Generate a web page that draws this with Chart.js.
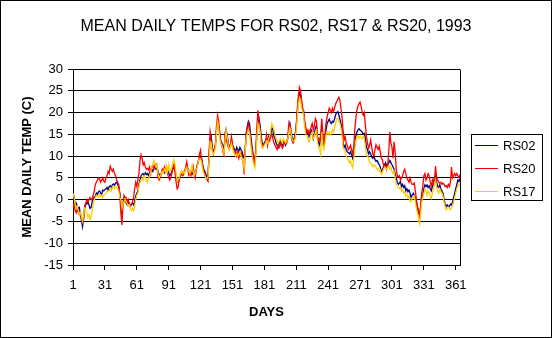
<!DOCTYPE html>
<html>
<head>
<meta charset="utf-8">
<script src="https://cdn.jsdelivr.net/npm/chart.js@4/dist/chart.umd.min.js"></script>
<style>
  html, body { margin: 0; padding: 0; background: #fff; }
  canvas { display: block; }
</style>
</head>
<body>
<canvas id="chart" width="552" height="338"></canvas>
<script>
// day numbers along the x axis (1..365) and the labelled ones
var days = [];
for (var d = 1; d <= 365; d++) { days.push(d); }
var dayTicks = [1, 31, 61, 91, 121, 151, 181, 211, 241, 271, 301, 331, 361];

var tempMin = -15;
var tempMax = 30;
var tempStep = 5;

var seriesNames = ['RS02', 'RS20', 'RS17'];
var seriesColors = ['#000080', '#ff0000', '#ffcc00'];

var rs02 = [
  -0.5, 0.5, -1, -0.8, -1.5, -2, -1.8, -3.5, -4.8, -6.2,
  -4, -1.5, -0.8, -1, -0.5, -1.2, -2, -1.8, -0.5, 0.3,
  0.5, 0.8, 1.5, 1.2, 1.8, 2, 1.5, 1.2, 2.2, 2,
  2.3, 2.5, 2.8, 2.2, 3, 3.2, 2.8, 3.4, 3.6, 3.3,
  3.8, 4, 3.5, 3, 1.5, -0.5, -3, -1, -0.2, -0.5,
  -0.8, -1.2, -0.5, -1, -1.5, -1, -0.8, -1.2, -0.5, 0.8,
  1.5, 2, 3.5, 4.5, 5.5, 5.8, 6, 5.5, 6.2, 5.8,
  6, 5.5, 6.3, 6.8, 7, 6.5, 7.2, 7.5, 7, 7.6,
  6.5, 5.8, 5.5, 6, 6.5, 6.8, 6.2, 7, 7.3, 6.8,
  6.2, 5.5, 5.8, 6.5, 7, 7.5, 6.8, 5.5, 4.2, 4,
  4.5, 5.5, 6, 6.3, 5.8, 6.5, 7, 7.6, 7.2, 6.5,
  6.5, 6, 5.8, 6.4, 5.6, 6, 7, 8, 9, 9.5,
  10, 9.5, 8, 7, 6.5, 5.8, 5, 6, 10, 14,
  14.5, 12, 11, 11.5, 12.5, 16, 17.5, 17, 15, 13.5,
  13, 12.5, 11, 14, 16, 15, 13, 12, 12.5, 13.5,
  12.5, 12, 11.5, 11, 12, 11.5, 11, 12, 11.5, 11,
  10, 9.5, 12, 15, 17, 18, 17.5, 15, 13, 11,
  9.5, 8.5, 11, 15, 17.5, 18.5, 17, 14.5, 13, 12.5,
  13, 13.5, 14, 13.5, 14.5, 14, 15, 16.5, 16, 14.5,
  14, 13, 12.5, 12, 13, 13.5, 12.8, 12.5, 13.5, 13,
  12.5, 13.5, 14, 16, 17.5, 16, 14.5, 13.5, 14, 15,
  17, 20, 23, 24.5, 24, 22, 20.5, 19.5, 17.5, 16,
  15, 15.5, 14.5, 15, 16, 15.5, 14, 15, 16.5, 17,
  14, 13, 12.5, 14.5, 16.3, 13, 12.5, 14, 16, 17.5,
  18, 18.5, 17.8, 17.5, 18, 17.8, 18.5, 19.5, 20, 20.2,
  19.5, 18.5, 17.5, 16, 13, 12, 12.5, 11.5, 11, 10.8,
  10.5, 11, 10.3, 9.5, 10.5, 12.5, 14.5, 15.5, 16, 16.3,
  16, 15.8, 15.5, 15, 15.2, 14, 12, 11.5, 10.5, 11,
  10.5, 9.8, 9.5, 10, 9.2, 8.8, 9, 8.5, 8, 7.5,
  6.5, 6.8, 7.5, 8, 8.5, 7.8, 8, 8.5, 9, 8.5,
  8, 7.5, 7, 6, 5, 4, 3.5, 3.8, 4.2, 3,
  3.5, 2.8, 3.2, 2, 2.5, 1.8, 2.2, 1.5, 0.5, 1,
  1.5, 1, 0.5, -1, -2, -3, -3.5, -2, 0, 1,
  2.5, 3.4, 3, 3.4, 2.8, 3.2, 2.5, 2, 3, 4,
  5, 5.4, 4, 3, 2.8, 3.4, 2.5, 2, 1.5, 0,
  -1, -1.6, -1.2, -1.5, -1.6, -1, -1.2, -0.5, 0.5, 1.5,
  2.5, 3.5, 4.5, 4.2, 4.8
];

var rs20 = [
  -2, -1, -2.5, -3, -2, -3, -3.5, -3, -4, -5,
  -4.5, -2, -1, 0, -0.5, 0, 0.5, 0, 0.2, 1,
  2, 3.5, 4, 4.5, 5, 4.8, 4, 4.5, 5, 4.2,
  4, 5, 5.5, 6.5, 6, 7.7, 7, 6.5, 7, 6,
  5.5, 4.5, 4, 3.5, 1, -3, -5.8, -1, 1, 0.5,
  0.5, -0.5, 0, -1, -1.5, -1, -0.5, 0.5, 2.5, 4,
  3, 4.5, 6, 9, 10.3, 9.5, 8, 8.5, 7.5, 7,
  7.2, 6.8, 7.5, 6, 7.5, 8, 7, 8, 8.2, 7.5,
  5, 4.5, 5, 6, 7, 6.5, 7.5, 6.5, 7.5, 6,
  5, 4.5, 5, 6, 7.5, 8.2, 6, 4, 2.5, 3,
  5, 5.5, 6, 5.5, 6, 6.5, 7.5, 8.7, 7, 5.5,
  6, 5.5, 6.5, 7.6, 6, 5, 7, 8, 9, 10.5,
  11.4, 9, 7.5, 6.5, 6, 5, 4.6, 4.2, 11, 15.6,
  14, 11.5, 10.5, 11.5, 13, 17, 19.4, 18, 15.5, 13,
  12.5, 11, 10.3, 15.6, 14, 13, 12, 11.5, 12.5, 14.5,
  13, 11.5, 10.5, 11, 10, 11, 9.5, 10.5, 11, 9.8,
  8.5, 5.8, 11, 15.6, 16.5, 17.5, 16, 14, 12, 11,
  9, 8.4, 12, 17, 20.5, 18, 16, 13.5, 12.2, 12.5,
  12.8, 13, 14.8, 12.5, 14, 13.5, 14.5, 15, 14, 13,
  12.5, 12, 11.5, 12.5, 12, 13, 12.2, 11.8, 12.5, 13,
  12.8, 13, 14.5, 17.5, 16.5, 15, 13.5, 13, 13.5, 14.5,
  17, 21, 24, 25.8, 25, 23, 21, 20.5, 18, 16.5,
  15.5, 16, 15, 16, 16.7, 17.5, 16, 17, 18.6, 18,
  14.5, 14, 13.5, 15, 18.6, 15, 13, 15, 17.5, 19,
  20, 21, 20.5, 20, 21, 20.2, 21, 22, 22.5, 23,
  23.5, 22.8, 21, 19, 16, 13.7, 14.5, 13, 12.5, 11.5,
  11.8, 12.5, 11.5, 10.5, 12, 16, 18.6, 20.5, 21.5, 22,
  22.4, 21.5, 20, 19.4, 20, 17, 14.5, 13, 11.8, 12.5,
  13.7, 12, 10.5, 10, 11.5, 12.6, 12, 11.5, 12.3, 11,
  9.5, 9.2, 8, 7.5, 8, 7, 8, 11, 15.6, 13,
  12, 9.5, 13.3, 11, 7, 5.5, 5.2, 5.5, 4.5, 5,
  5.5, 6.5, 7, 6, 5, 4.5, 4, 5, 4, 3.5,
  3.5, 3.8, 2, 0, -1.5, -2.5, -3.8, -1, 1.5, 3,
  5.5, 6, 4.5, 5, 6, 5.5, 4, 3, 4.5, 3.5,
  4.5, 7.7, 5, 4.5, 4, 3.8, 4, 3.5, 3.8, 3.5,
  3, 3.2, 2.8, 3.5, 3, 4, 7.5, 5, 5.5, 6,
  5.5, 6, 5.5, 5, 5.8
];

var rs17 = [
  1.5, 0.5, -1, -2, -1.5, -2.5, -3.5, -3, -4, -5,
  -3.5, -2, -2.5, -3, -4, -3.5, -4.6, -4, -2.5, -1,
  0, 0.5, 1, 0.8, 0.5, 1.2, 0.8, 1, 0.5, 1,
  1.2, 1.5, 2, 1.8, 2.2, 2.5, 2, 3, 2.8, 2.5,
  3, 2.8, 2.5, 2, 0.5, 0, -2, -1, -0.5, 0,
  -0.5, -1, -1.5, -1.2, -2, -2.5, -2, -2.5, -1.5, 0,
  1, 1.5, 3, 4, 4.5, 5, 4.5, 5.5, 5, 4.5,
  4, 4.8, 5.5, 6.5, 7.5, 8, 9, 8.5, 7.5, 8,
  6, 5, 5.5, 6, 6.5, 6, 7, 6.5, 7.5, 6.5,
  8, 6.5, 7, 7.5, 8.5, 9.2, 8, 6, 4.2, 4.5,
  5, 6, 6.5, 6, 6.5, 6, 7, 7.5, 7, 6.5,
  6, 7, 8, 6.5, 5.5, 6, 7, 7.5, 9, 9.5,
  9.5, 8.5, 7, 6, 5.5, 5, 4.8, 5.2, 9, 13.3,
  13, 11, 10.5, 11, 12, 15.5, 17.9, 16.5, 14, 13,
  12.5, 11.5, 10.5, 13.5, 16, 14.5, 12.5, 11.5, 12, 13,
  12, 11, 10.5, 10, 10.5, 10, 10.5, 11, 10, 9.5,
  8.5, 7, 11.5, 14.5, 15.2, 16, 15.5, 13, 11, 9.2,
  8, 7.3, 10, 14.5, 17.5, 17, 15.5, 13, 11.8, 12,
  12.5, 13, 13.5, 13, 14, 14.5, 16, 17.5, 17, 16,
  15, 14, 13.5, 13, 13.5, 14, 13.5, 13, 14, 13.5,
  13, 13.5, 14, 15.5, 16.5, 15.5, 14, 13.5, 13.5, 14,
  16, 19, 22, 23.5, 23, 21, 20.5, 19, 16.5, 15,
  14.5, 14, 13.3, 14, 15, 15.5, 14, 14.5, 15.5, 16,
  13, 12, 11.5, 10.3, 15.6, 12.5, 11.5, 13, 14.8, 15.5,
  15, 15.5, 14.8, 15.5, 16, 15.5, 16.5, 17.5, 18.5, 18.7,
  18, 17.5, 16.5, 15, 12, 11.5, 11, 10, 9.5, 9,
  8.5, 9, 8, 7.3, 9, 11.5, 13.5, 14.5, 14.6, 14.1,
  14.5, 14.2, 14, 14.6, 14, 12, 10.5, 10, 9.5, 8.5,
  8.5, 8, 7.5, 8, 7.8, 7.5, 7, 7.2, 6.5, 6.8,
  5.8, 6.2, 7, 7.5, 7.3, 7, 7.5, 7.8, 7, 7.5,
  6.5, 6, 6.5, 5, 3.5, 3, 2.7, 2.5, 2.8, 2,
  2.3, 1.5, 1.8, 0.8, 1.2, 0.5, 1, -0.4, -0.5, 0.3,
  0.5, 0.8, -0.5, -2, -3, -4.5, -5.5, -3, -0.5, 0.5,
  1.5, 2.5, 2, 1, 2, 1.5, 0.8, 0.3, 1.5, 2.5,
  3.5, 4.5, 3, 2, 1.5, 2.5, 1.8, 1.5, 0.8, -0.5,
  -1.5, -2.3, -2, -1.7, -2, -2.3, -1.8, -1.5, -0.5, 0.5,
  1.5, 2.5, 3, 3.5, 4
];

var FONT = "'Liberation Sans', Arial, sans-serif";

// white background, plot frame, outer border and the boxed legend
var excelFrame = {
  id: 'excelFrame',
  beforeDraw: function(chart) {
    var ctx = chart.ctx;
    ctx.save();
    ctx.fillStyle = '#fff';
    ctx.fillRect(0, 0, chart.width, chart.height);
    ctx.restore();
  },
  afterDraw: function(chart) {
    var ctx = chart.ctx;
    var a = chart.chartArea;
    ctx.save();
    ctx.strokeStyle = '#000';
    ctx.lineWidth = 1;
    var rx = Math.round(a.right) + 0.5;
    ctx.beginPath();
    ctx.moveTo(rx, Math.round(a.top) + 0.5);
    ctx.lineTo(rx, Math.round(a.bottom) + 0.5);
    ctx.stroke();
    ctx.strokeRect(0.5, 0.5, chart.width - 1, chart.height - 1);

    // legend
    ctx.strokeRect(471.5, 134.5, 71, 66);
    ctx.font = '13px ' + FONT;
    ctx.textBaseline = 'middle';
    ctx.textAlign = 'left';
    chart.data.datasets.forEach(function(ds, i) {
      var y = 145.5 + i * 23;
      ctx.strokeStyle = ds.borderColor;
      ctx.lineWidth = 1;
      ctx.beginPath();
      ctx.moveTo(475, y);
      ctx.lineTo(498, y);
      ctx.stroke();
      ctx.fillStyle = '#000';
      ctx.fillText(ds.label, 503, y + 0.5);
    });
    ctx.restore();
  }
};

var series = [rs02, rs20, rs17];
var datasets = series.map(function(vals, i) {
  return {
    label: seriesNames[i],
    data: vals,
    borderColor: seriesColors[i],
    backgroundColor: seriesColors[i],
    borderWidth: 1.3,
    pointRadius: 0,
    tension: 0,
    fill: false,
    order: 2 - i
  };
});

new Chart(document.getElementById('chart'), {
  type: 'line',
  data: { labels: days, datasets: datasets },
  options: {
    responsive: false,
    animation: false,
    events: [],
    layout: { padding: 0 },
    plugins: {
      legend: { display: false },
      tooltip: { enabled: false },
      title: {
        display: true,
        text: 'MEAN DAILY TEMPS FOR RS02, RS17 & RS20, 1993',
        color: '#000',
        font: { family: FONT, size: 16, weight: 'normal' },
        padding: { top: 17.4, bottom: 32.4 }
      }
    },
    scales: {
      x: {
        type: 'linear',
        min: 1,
        max: 365,
        afterBuildTicks: function(scale) {
          scale.ticks = dayTicks.map(function(v) { return { value: v }; });
        },
        afterFit: function(scale) { scale.height = 73; },
        ticks: {
          autoSkip: false,
          maxRotation: 0,
          color: '#000',
          font: { family: FONT, size: 13 },
          padding: 8
        },
        grid: {
          drawOnChartArea: false,
          drawTicks: true,
          tickLength: 5,
          color: '#000'
        },
        border: { display: true, color: '#000' },
        title: {
          display: true,
          text: 'DAYS',
          color: '#000',
          font: { family: FONT, size: 13, weight: 'bold' },
          padding: { top: 0, bottom: 18.2 }
        }
      },
      y: {
        min: tempMin,
        max: tempMax,
        afterFit: function(scale) { scale.width = 73; },
        ticks: {
          stepSize: tempStep,
          color: '#000',
          font: { family: FONT, size: 13 },
          padding: 5
        },
        grid: {
          color: '#000',
          tickLength: 5
        },
        border: { display: true, color: '#000' },
        title: {
          display: true,
          text: 'MEAN DAILY TEMP (C)',
          color: '#000',
          font: { family: FONT, size: 13, weight: 'bold' },
          padding: { top: 20, bottom: 0 }
        }
      },
      legendSpace: {
        type: 'linear',
        position: 'right',
        display: true,
        grid: { display: false },
        ticks: { display: false },
        border: { display: false },
        afterFit: function(scale) { scale.width = 92; }
      }
    }
  },
  plugins: [excelFrame]
});
</script>
</body>
</html>
